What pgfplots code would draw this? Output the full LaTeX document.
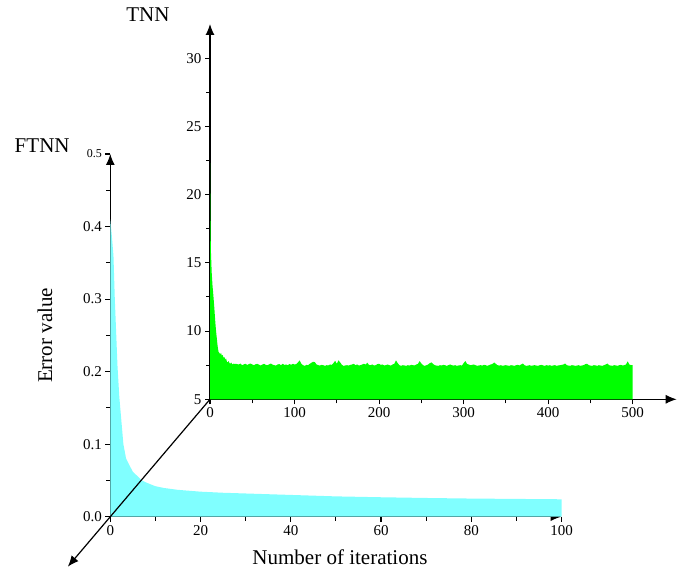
\documentclass[border=0pt]{standalone}
\usepackage{fontspec}
\setmainfont{Liberation Serif}
\usepackage{pgfplots}
\pgfplotsset{compat=1.18}
\usetikzlibrary{arrows.meta,calc}
\definecolor{tnngreen}{RGB}{0,255,0}
\definecolor{ftnncyan}{RGB}{128,255,255}

\begin{document}
\begin{tikzpicture}
\path[use as bounding box] (0,0) rectangle (688pt,572pt);
\pgfplotsset{
  myaxis/.style={
    scale only axis,
    anchor=south west,
    axis lines=left,
    axis line style={line width=1.2pt, -{Latex[length=11pt,width=9pt]}},
    tick align=outside,
    major tick length=5pt,
    minor tick length=4pt,
    every tick/.style={black, line width=1.1pt},
    tick label style={font=\fontsize{15}{17}\selectfont},
    /pgf/number format/assume math mode=true,
    label style={font=\fontsize{21}{25}\selectfont},
    title style={font=\fontsize{21}{25}\selectfont, anchor=center},
  }
}
% Back axis: TNN
\begin{axis}[myaxis,
  at={(210pt,172.7pt)},
  width=466.7pt, height=375.3pt,
  xmin=0, xmax=552, ymin=5, ymax=32.5,
  xtick={0,100,200,300,400,500},
  xticklabels={0,100,200,300,400,500},
  minor xtick={50,150,250,350,450},
  ytick={5,10,15,20,25,30},
  yticklabels={5,10,15,20,25,30},
  minor ytick={7.5,12.5,17.5,22.5,27.5},
  title={TNN},
  title style={at={(axis description cs:-0.133,1.008)}},
]
\addplot[fill=tnngreen, draw=none] table {
x y
0 22.3
0.5 18.5
1 16.0
2 14.3
3 13.3
4 12.6
5 11.8
6 10.9
7 10.1
8 9.5
9 8.9
10 8.5
11 8.4
12 8.3
13 8.4
14 8.2
15 8.25
16 8.05
17 8.1
18 7.9
19 8.0
20 7.75
21 7.7
22 7.8
23 7.65
24 7.6
25 7.7
26 7.6
27 7.55
28 7.62
29 7.58
30 7.6
32 7.58
34 7.55
36 7.62
38 7.5
40 7.56
42 7.6
44 7.52
46 7.58
48 7.62
50 7.55
52 7.5
54 7.57
56 7.6
58 7.53
60 7.48
62 7.55
64 7.6
66 7.52
68 7.5
70 7.56
72 7.62
74 7.54
76 7.5
78 7.47
80 7.55
82 7.58
84 7.5
86 7.6
88 7.52
90 7.55
92 7.5
94 7.58
96 7.53
98 7.6
100 7.55
102 7.58
104 7.7
106 7.85
108 7.6
110 7.5
112 7.45
114 7.52
116 7.5
118 7.6
120 7.68
122 7.75
124 7.72
126 7.55
128 7.5
130 7.47
132 7.52
134 7.5
136 7.45
138 7.5
140 7.48
142 7.55
144 7.52
146 7.65
148 7.82
150 7.6
152 7.85
154 7.7
156 7.52
158 7.45
160 7.48
162 7.5
164 7.47
166 7.52
168 7.55
170 7.6
172 7.5
174 7.55
176 7.48
178 7.5
180 7.55
182 7.6
184 7.55
186 7.68
188 7.52
190 7.5
192 7.55
194 7.48
196 7.5
198 7.58
200 7.6
202 7.52
204 7.55
206 7.48
208 7.5
210 7.55
212 7.5
214 7.47
216 7.55
218 7.6
220 7.85
222 7.65
224 7.5
226 7.45
228 7.5
230 7.48
232 7.45
234 7.5
236 7.47
238 7.52
240 7.5
242 7.48
244 7.55
246 7.6
248 7.8
250 7.62
252 7.5
254 7.45
256 7.5
258 7.55
260 7.65
262 7.7
264 7.58
266 7.5
268 7.47
270 7.45
272 7.5
274 7.48
276 7.52
278 7.5
280 7.45
282 7.5
284 7.55
286 7.5
288 7.47
290 7.5
292 7.45
294 7.48
296 7.5
298 7.47
300 7.65
302 7.8
304 7.6
306 7.55
308 7.5
310 7.52
312 7.55
314 7.5
316 7.45
318 7.48
320 7.5
322 7.47
324 7.52
326 7.5
328 7.45
330 7.5
332 7.55
334 7.58
336 7.7
338 7.6
340 7.5
342 7.47
344 7.5
346 7.45
348 7.48
350 7.5
352 7.47
354 7.45
356 7.5
358 7.48
360 7.45
362 7.5
364 7.52
366 7.48
368 7.55
370 7.62
372 7.5
374 7.45
376 7.47
378 7.5
380 7.45
382 7.48
384 7.5
386 7.47
388 7.45
390 7.5
392 7.52
394 7.48
396 7.45
398 7.5
400 7.47
402 7.5
404 7.45
406 7.48
408 7.5
410 7.45
412 7.48
414 7.5
416 7.52
418 7.55
420 7.62
422 7.5
424 7.47
426 7.45
428 7.5
430 7.48
432 7.45
434 7.47
436 7.5
438 7.45
440 7.48
442 7.5
444 7.58
446 7.6
448 7.5
450 7.47
452 7.45
454 7.5
456 7.48
458 7.45
460 7.5
462 7.47
464 7.45
466 7.5
468 7.55
470 7.62
472 7.5
474 7.47
476 7.45
478 7.5
480 7.48
482 7.45
484 7.5
486 7.52
488 7.48
490 7.5
492 7.55
494 7.78
496 7.55
498 7.5
500 7.5
} \closedcycle;
\coordinate (O2) at (axis cs:0,5);
\end{axis}

% Front axis: FTNN
\begin{axis}[myaxis,
  at={(110.3pt,55.3pt)},
  width=451.2pt, height=362.7pt,
  xmin=0, xmax=100, ymin=0, ymax=0.5,
  xtick={0,20,40,60,80,100},
  xticklabels={0,20,40,60,80,100},
  minor xtick={10,30,50,70,90},
  ytick={0,0.1,0.2,0.3,0.4,0.5},
  yticklabels={0.0,0.1,0.2,0.3,0.4,{\fontsize{12}{13}\selectfont 0.5}},
  minor ytick={0.05,0.15,0.25,0.35,0.45},
  title={FTNN},
  title style={at={(axis description cs:-0.151,1.006)}},
  xlabel={Number of iterations},
  xlabel style={at={(axis description cs:0.509,-0.111)}, anchor=center},
  ylabel={Error value},
  ylabel style={at={(axis description cs:-0.145,0.5)}, anchor=center},
]
\addplot[fill=ftnncyan, draw=none] table {
x y
0 0.41
0.3 0.39
0.7 0.36
1 0.30
1.6 0.207
2 0.165
2.9 0.10
3.5 0.08
4.4 0.069
5 0.062
6 0.056
7 0.050
8 0.047
10 0.042
12 0.0395
15 0.037
20 0.0345
25 0.033
30 0.032
40 0.030
50 0.028
60 0.0268
70 0.0258
80 0.025
90 0.0245
100 0.024
} \closedcycle;
\coordinate (O1) at (axis cs:0,0);
\end{axis}

\draw[line width=1.2pt, -{Latex[length=11pt,width=9pt]}] (O2) -- ($(O2)!1.426!(O1)$);
\end{tikzpicture}
\end{document}
